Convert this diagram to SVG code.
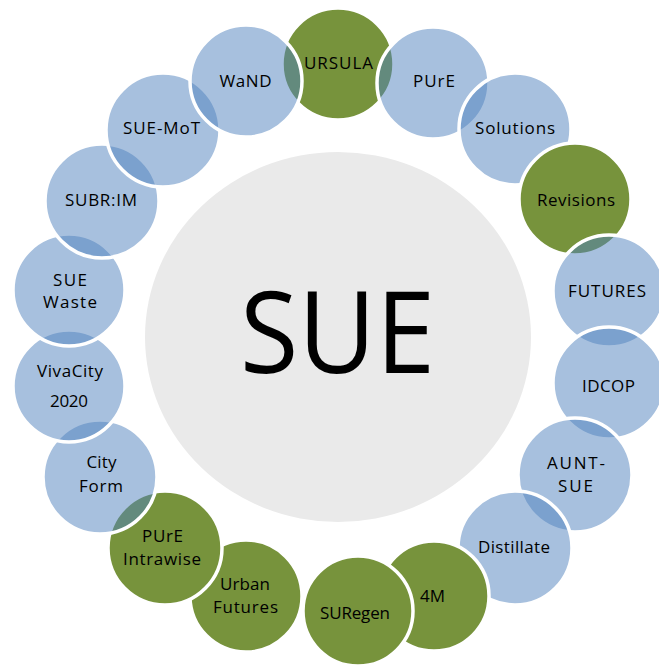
<svg xmlns="http://www.w3.org/2000/svg" width="659" height="667" viewBox="0 0 659 667">
<style>
.b{fill:#4F81BD;fill-opacity:0.5;stroke:#FFFFFF;stroke-width:3.5}
.g{fill:#77933C;stroke:#FFFFFF;stroke-width:3.5}
.t{font-family:"Open Sans","Liberation Sans",sans-serif;font-size:17px;fill:#000000;text-anchor:middle}
.hub{font-family:"Open Sans","Liberation Sans",sans-serif;font-size:113px;fill:#000000;text-anchor:middle}
</style>
<rect width="659" height="667" fill="#FFFFFF"/>
<g id="hub">
<ellipse cx="338" cy="337" rx="193" ry="185" fill="#EAEAEA"/>
<text class="hub" x="337.5" y="373" textLength="195" lengthAdjust="spacingAndGlyphs">SUE</text>
</g>
<g id="ursula"><circle class="g" cx="338" cy="64" r="56"/><text class="t" x="338.5" y="69" textLength="69">URSULA</text></g>
<g id="pure"><circle class="b" cx="433" cy="83" r="56"/><text class="t" x="434" y="87" textLength="42">PUrE</text></g>
<g id="solutions"><circle class="b" cx="515" cy="129" r="56"/><text class="t" x="515" y="134" textLength="80">Solutions</text></g>
<g id="revisions"><circle class="g" cx="575" cy="199" r="56"/><text class="t" x="576" y="206" textLength="78">Revisions</text></g>
<g id="futures"><circle class="b" cx="609" cy="291" r="56"/><text class="t" x="607" y="297" textLength="78">FUTURES</text></g>
<g id="idcop"><circle class="b" cx="609" cy="383" r="56"/><text class="t" x="608.5" y="392" textLength="53">IDCOP</text></g>
<g id="aunt-sue"><circle class="b" cx="575" cy="475" r="57"/><text class="t" x="576" y="469" textLength="58">AUNT-</text><text class="t" x="575.5" y="492" textLength="35">SUE</text></g>
<g id="distillate"><circle class="b" cx="515" cy="548" r="57"/><text class="t" x="514" y="553" textLength="72">Distillate</text></g>
<g id="n4m"><circle class="g" cx="434" cy="596" r="55"/><text class="t" x="432.5" y="602" textLength="25">4M</text></g>
<g id="suregen"><circle class="g" cx="358" cy="611" r="55"/><text class="t" x="355" y="619" textLength="70">SURegen</text></g>
<g id="urban-futures"><circle class="g" cx="246" cy="596" r="56"/><text class="t" x="245" y="590" textLength="50">Urban</text><text class="t" x="245.5" y="613" textLength="65">Futures</text></g>
<g id="pure-intrawise"><circle class="g" cx="165" cy="548" r="57"/><text class="t" x="162.5" y="542" textLength="41">PUrE</text><text class="t" x="162" y="565" textLength="78">Intrawise</text></g>
<g id="city-form"><circle class="b" cx="100" cy="477" r="57"/><text class="t" x="101.5" y="468" textLength="30">City</text><text class="t" x="101" y="492" textLength="44">Form</text></g>
<g id="vivacity"><circle class="b" cx="69" cy="386" r="56"/><text class="t" x="70" y="377" textLength="66">VivaCity</text><text class="t" x="69" y="407" textLength="38">2020</text></g>
<g id="sue-waste"><circle class="b" cx="69" cy="290" r="56"/><text class="t" x="70" y="286" textLength="34">SUE</text><text class="t" x="70" y="308" textLength="54">Waste</text></g>
<g id="subrim"><circle class="b" cx="102" cy="201" r="57"/><text class="t" x="101" y="206" textLength="72">SUBR:IM</text></g>
<g id="sue-mot"><circle class="b" cx="163" cy="130" r="57"/><text class="t" x="161.5" y="134" textLength="77">SUE-MoT</text></g>
<g id="wand"><circle class="b" cx="246" cy="81" r="56"/><text class="t" x="245.5" y="87" textLength="52">WaND</text></g>
</svg>
